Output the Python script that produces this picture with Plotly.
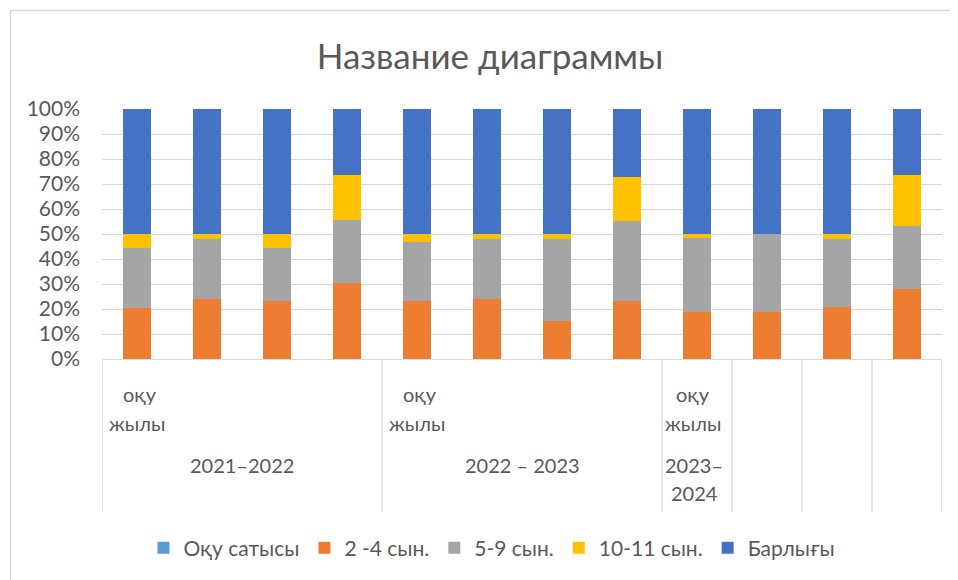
import plotly.graph_objects as go

# ---- data (percent shares per bar) ----
bars = list(range(12))
series_names = ["Оқу сатысы", "2 -4 сын.", "5-9 сын.", "10-11 сын.", "Барлығы"]
oqu_satysy = [0, 0, 0, 0, 0, 0, 0, 0, 0, 0, 0, 0]
s_2_4 = [20.3, 23.9, 23.1, 30.3, 23.1, 23.9, 15.2, 23.1, 18.7, 18.8, 20.7, 27.9]
s_5_9 = [24.0, 24.0, 21.4, 25.2, 23.7, 24.0, 32.7, 32.2, 29.6, 31.2, 27.2, 25.4]
s_10_11 = [5.6, 2.1, 5.5, 18.1, 3.2, 2.1, 2.1, 17.6, 1.7, 0.0, 2.1, 20.4]
s_total = [50.1, 50.0, 50.0, 26.4, 50.0, 50.0, 50.0, 27.1, 50.0, 50.0, 50.0, 26.3]
colors = ["#5B9BD5", "#ED7D31", "#A5A5A5", "#FFC000", "#4472C4"]

group_word1 = "оқу"
group_word2 = "жылы"
group_years = ["2021–2022", "2022 – 2023", "2023–", "2024"]
y_ticks = [0, 10, 20, 30, 40, 50, 60, 70, 80, 90, 100]
y_tick_text = ["0%", "10%", "20%", "30%", "40%", "50%", "60%", "70%", "80%", "90%", "100%"]

FONT = "Lato, 'Open Sans', sans-serif"
TXT = "#595959"
GRID = "#D9D9D9"
OFF = 8  # page body margin offset

fig = go.Figure()
for name, vals, col in zip(series_names, [oqu_satysy, s_2_4, s_5_9, s_10_11, s_total], colors):
    fig.add_trace(go.Bar(x=bars, y=vals, name=name, marker=dict(color=col, line=dict(width=0)), width=0.4))

# plot area in reference pixels: left 102, right 942, top 109, bottom 359
def py(ypx):
    return (359 - ypx) / 250.0

def px(xpx):
    return (xpx - 102) / 70.0 - 0.5

shapes = []
for xv in [-0.5, 3.5, 7.5, 8.5, 9.5, 10.5, 11.5]:
    shapes.append(dict(type="line", xref="x", yref="paper", x0=xv, x1=xv, y0=0, y1=py(512),
                       line=dict(color=GRID, width=1.3)))
# chart border
shapes.append(dict(type="rect", xref="paper", yref="paper",
                   x0=(10.5 - 102) / 840.0, x1=1.2, y0=-1.2, y1=py(10.5),
                   line=dict(color=GRID, width=1.3), fillcolor="rgba(0,0,0,0)"))

ann = []
def add_text(t, x, y, anchor):
    ann.append(dict(text=t, x=x, y=y, xref="x", yref="paper", xanchor=anchor, yanchor="middle",
                    showarrow=False, font=dict(family=FONT, size=20, color=TXT)))

add_text(group_word1, px(121), py(394), "left")
add_text(group_word2, px(107), py(423), "left")
add_text(group_years[0], 1.5, py(465), "center")
add_text(group_word1, px(401), py(394), "left")
add_text(group_word2, px(387), py(423), "left")
add_text(group_years[1], 5.5, py(465), "center")
add_text(group_word1, px(693), py(394), "center")
add_text(group_word2, px(693), py(423), "center")
add_text(group_years[2], px(694), py(465), "center")
add_text(group_years[3], px(694), py(493), "center")

W, H = 958 - OFF, 580 - OFF
fig.update_layout(
    width=W, height=H,
    margin=dict(l=102 - OFF, r=W - (102 - OFF) - 840, t=109 - OFF, b=H - (109 - OFF) - 250, autoexpand=False),
    paper_bgcolor="white", plot_bgcolor="white",
    barmode="stack",
    title=dict(text="Название диаграммы", x=(490 - OFF) / W, xanchor="center", xref="container",
               y=1 - (57 - OFF) / H, yanchor="middle", yref="container",
               font=dict(family=FONT, size=35, color=TXT)),
    xaxis=dict(range=[-0.5, 11.5], showticklabels=False, showgrid=False, zeroline=False,
               showline=True, linecolor=GRID, linewidth=1.3, ticks=""),
    yaxis=dict(range=[0, 100], tickvals=y_ticks, ticktext=y_tick_text, showgrid=True, gridcolor=GRID,
               gridwidth=1.3, zeroline=False, showline=False, ticks="", ticklabelstandoff=21,
               tickfont=dict(family=FONT, size=21, color=TXT)),
    legend=dict(orientation="h", x=(492 - 102) / 840.0, xanchor="center", y=py(548), yanchor="middle",
                traceorder="normal", font=dict(family=FONT, size=21, color=TXT)),
    shapes=shapes, annotations=ann,
)

fig.write_html("out.html")
